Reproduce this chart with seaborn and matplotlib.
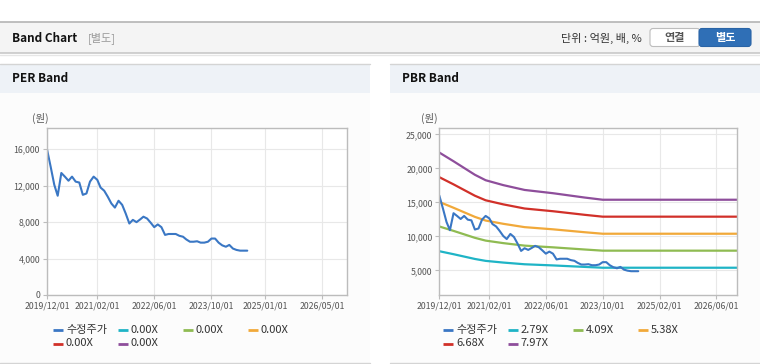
import pandas as pd
import matplotlib.pyplot as plt
import seaborn as sns
from matplotlib.patches import Rectangle, FancyBboxPatch
from matplotlib.lines import Line2D

# ---- data ----
price_dates = pd.date_range("2019-12-01", periods=57, freq="MS")
price = [16000,
         14100, 12100, 10900, 13400, 13000, 12550, 13000, 12450, 12350, 11000, 11150, 12450,
         13000, 12650, 11800, 11450, 10800, 10050, 9600, 10350, 9900, 8950, 7850, 8250,
         8000, 8300, 8600, 8400, 7950, 7450, 7750, 7450, 6600, 6700, 6700, 6700,
         6500, 6400, 6100, 5850, 5850, 5900, 5750, 5750, 5850, 6200, 6200, 5750,
         5450, 5300, 5500, 5100, 4950, 4870, 4870, 4870]

band_dates = pd.to_datetime(["2019-12-01", "2020-04-01", "2020-10-01", "2021-01-01", "2021-06-01",
                             "2021-12-01", "2022-08-01", "2023-05-01", "2023-10-01", "2026-11-28"])
pbr_279 = [7810, 7370, 6670, 6390, 6140, 5890, 5720, 5500, 5380, 5380]
pbr_409 = [11450, 10800, 9780, 9370, 9000, 8630, 8380, 8060, 7890, 7890]
pbr_538 = [15060, 14200, 12860, 12320, 11840, 11350, 11030, 10600, 10380, 10380]
pbr_668 = [18700, 17640, 15970, 15300, 14700, 14090, 13690, 13160, 12890, 12890]
pbr_797 = [22320, 21040, 19050, 18250, 17530, 16820, 16340, 15700, 15380, 15380]

per_labels = ["수정주가", "0.00X", "0.00X", "0.00X", "0.00X", "0.00X"]
pbr_labels = ["수정주가", "2.79X", "4.09X", "5.38X", "6.68X", "7.97X"]
colors = ["#3a77c4", "#1fb4c6", "#8fbb52", "#f1a93a", "#d13029", "#8e4e9b"]

per_ticks = ["2019-12-01", "2021-02-01", "2022-06-01", "2023-10-01", "2025-01-01", "2026-05-01"]
pbr_ticks = ["2019-12-01", "2021-02-01", "2022-06-01", "2023-10-01", "2025-02-01", "2026-06-01"]

sns.set_style("white")
plt.rcParams['font.family'] = ['Noto Sans CJK KR', 'DejaVu Sans']

W, H = 760, 364
fig = plt.figure(figsize=(W / 100, H / 100), dpi=100)
fig.patch.set_facecolor("white")

# background in pixel coordinates
bg = fig.add_axes([0, 0, 1, 1], zorder=0)
bg.set_xlim(0, W)
bg.set_ylim(H, 0)
bg.axis("off")

# header strip
bg.add_patch(Rectangle((0, 22), W, 31, fc="#f4f4f4", ec="none"))
bg.plot([0, W], [22, 22], color="#b4b4b4", lw=1.2)
bg.plot([0, W], [53, 53], color="#c8c8c8", lw=1.2)
bg.plot([0, W], [54.5, 54.5], color="#e6e6e6", lw=1)
bg.text(12, 38.5, "Band Chart", fontsize=8.5, fontweight="bold", va="center", color="#111")
bg.text(88, 38.5, "[별도]", fontsize=8, va="center", color="#999")
bg.text(642, 38.5, "단위 : 억원, 배, %", fontsize=8, va="center", ha="right", color="#333")
bg.add_patch(FancyBboxPatch((650, 28.5), 50, 18, boxstyle="round,pad=0,rounding_size=3",
                            fc="white", ec="#bdbdbd", lw=0.8))
bg.add_patch(FancyBboxPatch((699, 28.5), 52, 18, boxstyle="round,pad=0,rounding_size=3",
                            fc="#2f6fb6", ec="#2a64a6", lw=0.8))
bg.text(675, 38, "연결", fontsize=8, fontweight="bold", ha="center", va="center", color="#555")
bg.text(725, 38, "별도", fontsize=8, fontweight="bold", ha="center", va="center", color="white")

# panels
for x0, title in [(0, "PER Band"), (390, "PBR Band")]:
    bg.add_patch(Rectangle((x0, 64), 370, 299, fc="#fcfcfc", ec="none"))
    bg.add_patch(Rectangle((x0, 64), 370, 29, fc="#eef2f7", ec="none"))
    bg.plot([x0, x0 + 370], [64, 64], color="#d4d4d4", lw=1)
    bg.plot([x0, x0 + 370], [363, 363], color="#d4d4d4", lw=1)
    bg.text(x0 + 12, 79, title, fontsize=8.5, fontweight="bold", va="center", color="#111")


def legend(x0, labels):
    xs = [x0, x0 + 64.5, x0 + 130, x0 + 194.5, x0, x0 + 64.5]
    ys = [330, 330, 330, 330, 343.5, 343.5]
    for x, y, lab, c in zip(xs, ys, labels, colors):
        bg.plot([x, x + 10], [y, y], color=c, lw=2, solid_capstyle="butt")
        bg.text(x + 13, y, lab, fontsize=8, va="center", color="#333")


legend(53, per_labels)
legend(443, pbr_labels)


def setup(ax, ylim, yticks, xticks, label_x):
    ax.set_facecolor("white")
    ax.set_xlim(pd.Timestamp("2019-12-01"), pd.Timestamp("2026-11-28"))
    ax.set_ylim(*ylim)
    ax.set_yticks(yticks)
    ax.set_yticklabels([f"{v:,}" for v in yticks])
    xt = pd.to_datetime(xticks)
    ax.set_xticks(xt)
    ax.set_xticklabels([d.strftime("%Y/%m/%d") for d in xt])
    ax.grid(True, color="#e8e8e8", lw=0.8)
    ax.set_axisbelow(True)
    for s in ax.spines.values():
        s.set_color("#bcbcbc")
        s.set_linewidth(1)
    ax.tick_params(axis="both", labelsize=6.3, colors="#bcbcbc", labelcolor="#555",
                   length=3, width=0.8, pad=2, direction="out", left=True, bottom=True)
    ax.set_xlabel("")
    ax.set_ylabel("")
    bg.text(label_x, 118, "(원)", fontsize=7.5, va="center", color="#555")


# PER band
ax1 = fig.add_axes([47 / W, (H - 295) / H, 300 / W, 167 / H], zorder=2)
sns.lineplot(x=price_dates, y=price, ax=ax1, color=colors[0], lw=1.5)
setup(ax1, (0, 18340), [0, 4000, 8000, 12000, 16000], per_ticks, 32)

# PBR band
ax2 = fig.add_axes([439.3 / W, (H - 295) / H, 298 / W, 167 / H], zorder=2)
for vals, c in zip([pbr_797, pbr_668, pbr_538, pbr_409, pbr_279], colors[:0:-1]):
    sns.lineplot(x=band_dates, y=vals, ax=ax2, color=c, lw=1.6)
sns.lineplot(x=price_dates, y=price, ax=ax2, color=colors[0], lw=1.5)
setup(ax2, (1370, 25930), [5000, 10000, 15000, 20000, 25000], pbr_ticks, 421)

fig.savefig("out.png", dpi=100)
